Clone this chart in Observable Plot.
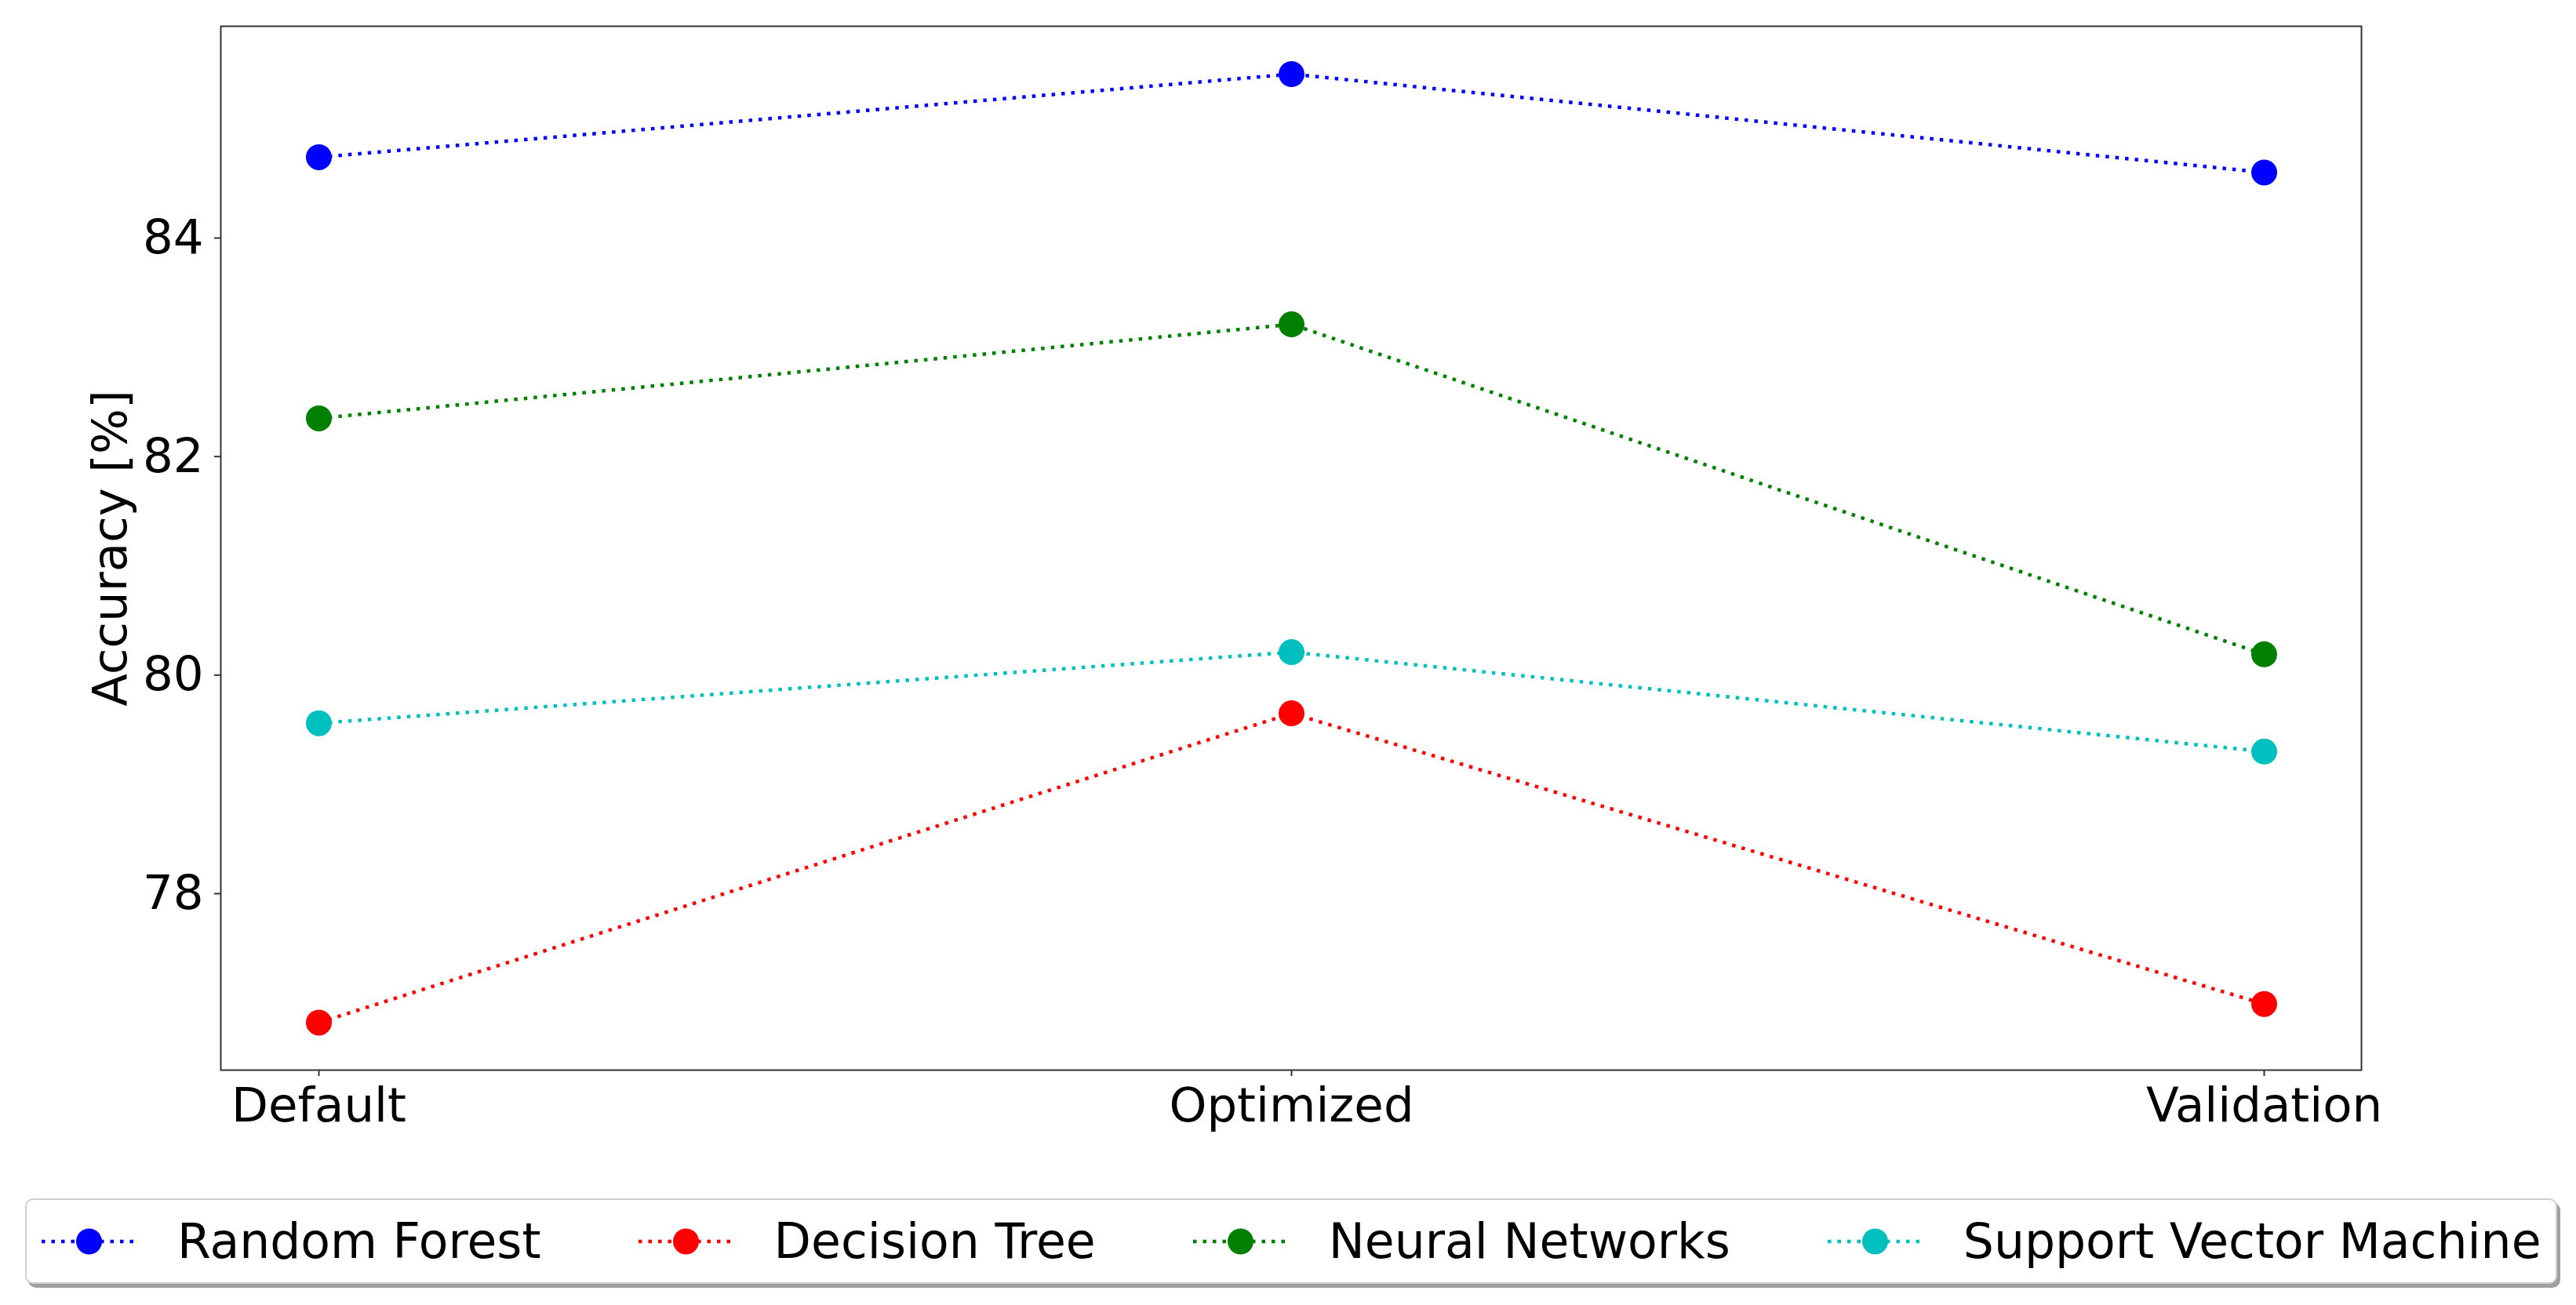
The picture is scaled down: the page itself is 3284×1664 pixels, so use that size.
<!DOCTYPE html>
<html><head><meta charset="utf-8">
<script src="https://cdn.jsdelivr.net/npm/d3@7"></script>
<script src="https://cdn.jsdelivr.net/npm/@observablehq/plot@0.6"></script>
<style>
html,body{margin:0;padding:0;background:#fff;}
#wrap{position:relative;width:3284px;height:1664px;font-family:"DejaVu Sans",sans-serif;overflow:hidden;}
#legend{position:absolute;left:32px;top:1528px;width:3228px;height:109px;box-sizing:border-box;border:2px solid #cfcfcf;border-radius:10px;box-shadow:4px 5px 0 rgba(80,80,80,0.55);background:#fff;display:flex;align-items:center;padding-left:19px;font-size:61.6px;color:#000;white-space:nowrap;}
.item{display:flex;align-items:center;margin-right:124px;}
.item svg{margin-right:52px;display:block;}
</style></head><body><div id="wrap"></div>
<script>
const stages = ["Default", "Optimized", "Validation"];
const models = ["Random Forest", "Decision Tree", "Neural Networks", "Support Vector Machine"];
const colors = ["#0000ff", "#ff0000", "#008000", "#00bfbf"];
const randomForest = [84.74, 85.50, 84.60];
const decisionTree = [76.82, 79.65, 76.99];
const neuralNetworks = [82.35, 83.21, 80.19];
const supportVectorMachine = [79.56, 80.21, 79.30];
const yTicks = [78, 80, 82, 84];
const yLabel = "Accuracy [%]";

const seriesValues = [randomForest, decisionTree, neuralNetworks, supportVectorMachine];
const data = models.flatMap((m, i) => stages.map((s, j) => ({model: m, stage: s, value: seriesValues[i][j]})));

const plot = Plot.plot({
  width: 3284, height: 1480,
  marginLeft: 281, marginRight: 274, marginTop: 33, marginBottom: 116,
  style: {fontFamily: "DejaVu Sans", fontSize: "60px", color: "#000", background: "#fff"},
  x: {type: "point", domain: stages, padding: 0.1, label: null},
  y: {domain: [76.385, 85.938], label: null},
  color: {domain: models, range: colors},
  marks: [
    Plot.line(data, {x: "stage", y: "value", z: "model", stroke: "model", strokeWidth: 4.5, strokeDasharray: "4.5 8", strokeLinecap: "butt"}),
    Plot.dot(data, {x: "stage", y: "value", r: 16.5, fill: "model"}),
    Plot.frame({stroke: "#333", strokeWidth: 2}),
    Plot.axisX({tickSize: 8, tickPadding: 14, fontSize: 61, label: null, stroke: "#333", strokeWidth: 2}),
    Plot.axisY({ticks: yTicks, tickSize: 8, tickPadding: 14, fontSize: 61, label: null, stroke: "#333", strokeWidth: 2}),
    Plot.text([yLabel], {frameAnchor: "left", text: d => d, rotate: -90, dx: -140, fontSize: 61, textAnchor: "middle", lineAnchor: "middle", fill: "#000"})
  ]
});
const wrap = document.getElementById("wrap");
wrap.appendChild(plot);

const legend = document.createElement("div");
legend.id = "legend";
models.forEach((m, i) => {
  const item = document.createElement("div");
  item.className = "item";
  if (i === models.length - 1) item.style.marginRight = "0";
  const ns = "http://www.w3.org/2000/svg";
  const svg = document.createElementNS(ns, "svg");
  svg.setAttribute("width", 121); svg.setAttribute("height", 40);
  const line = document.createElementNS(ns, "line");
  line.setAttribute("x1", 0); line.setAttribute("x2", 121);
  line.setAttribute("y1", 20); line.setAttribute("y2", 20);
  line.setAttribute("stroke", colors[i]); line.setAttribute("stroke-width", 4.5);
  line.setAttribute("stroke-dasharray", "4.5 8");
  svg.appendChild(line);
  const c = document.createElementNS(ns, "circle");
  c.setAttribute("cx", 60.5); c.setAttribute("cy", 20); c.setAttribute("r", 16.5);
  c.setAttribute("fill", colors[i]);
  svg.appendChild(c);
  item.appendChild(svg);
  const t = document.createElement("span");
  t.textContent = m;
  item.appendChild(t);
  legend.appendChild(item);
});
wrap.appendChild(legend);
</script></body></html>
